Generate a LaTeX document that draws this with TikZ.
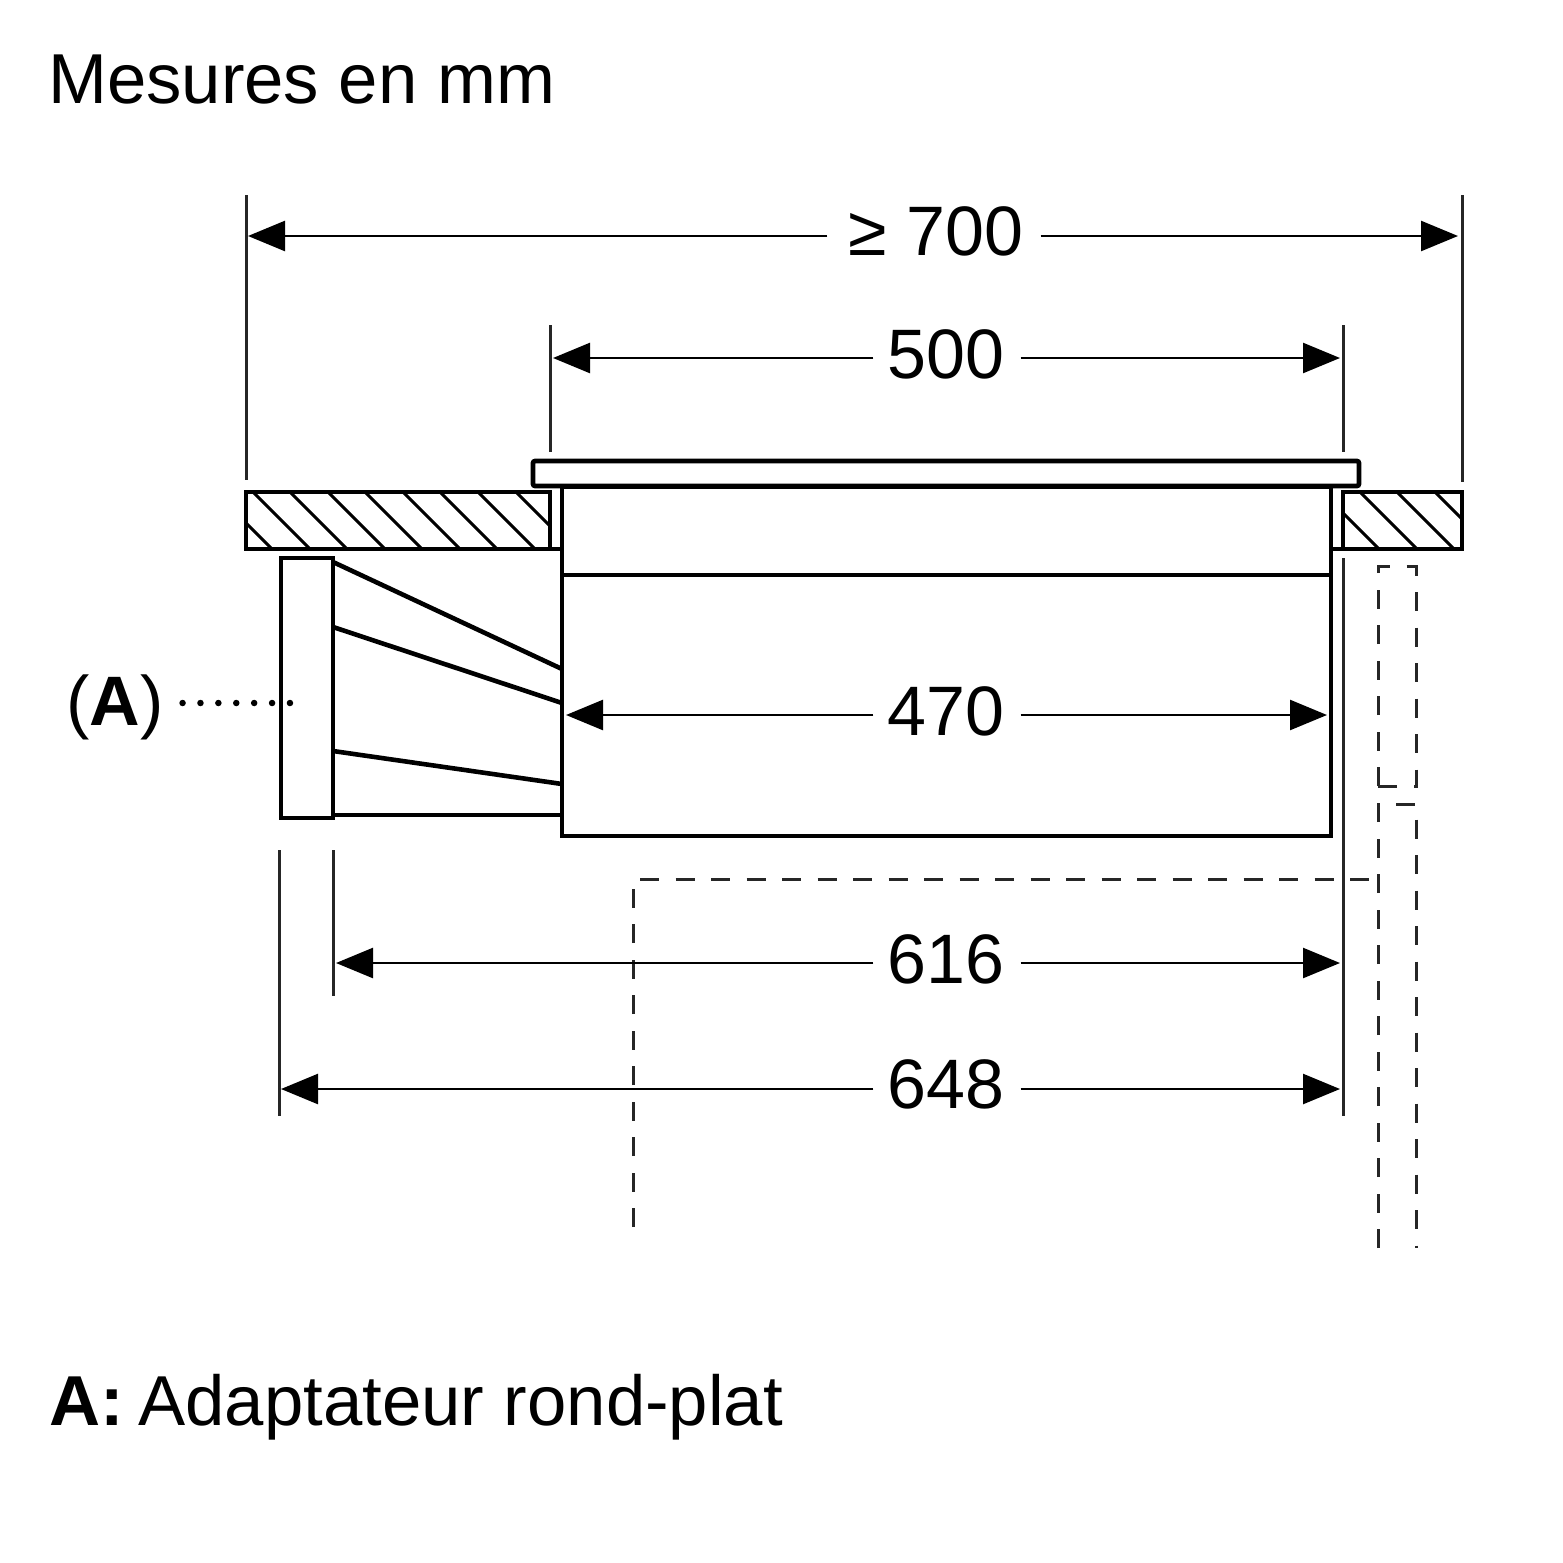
\documentclass[tikz,border=0pt]{standalone}
\usepackage{fontspec}
\setmainfont{Liberation Sans}
\usetikzlibrary{arrows.meta, positioning, calc}
\tikzset{
  big_font/.style = {font=\fontsize{70}{84}\selectfont},
  banner_font/.style = {font=\fontsize{70.7}{84}\selectfont},
  part/.style = {draw, line width=4.6, inner sep=0, outer sep=0, anchor=north west},
  thick_line/.style = {line width=4.6},
  hatch_line/.style = {line width=3},
  thin_line/.style = {line width=3, black!85},
  hidden_line/.style = {line width=3, black!85, dash pattern=on 19 off 16.5},
  dim_line/.style = {line width=2.5, -{Triangle[length=37,width=30]}},
  dim_text/.style = {big_font, inner sep=0, anchor=base},
  banner/.style = {banner_font, inner sep=0, anchor=base west}
}
\begin{document}
\begin{tikzpicture}[x=1pt, y=-1pt]
    \useasboundingbox (0,0) rectangle (1563,1563);

    % Titles
    \node[banner] (title) at (48,103) {Mesures en mm};
    \node[banner] (legend) at (49,1425) {\textbf{A:}\hspace{-5pt} Adaptateur rond-plat};
    \node[dim_text, anchor=base west] (mark_a) at (66,725) {(\textbf{A})};

    % Worktop
    \foreach \x in {215,253,290,328,365,403,440,478,516}{
        \begin{scope}
            \clip (246,492) rectangle (550,549);
            \draw[hatch_line] (\x,492)--(\x+60,552);
        \end{scope}
    }
    \foreach \x in {1322,1360,1397,1435}{
        \begin{scope}
            \clip (1343,492) rectangle (1462,549);
            \draw[hatch_line] (\x,492)--(\x+60,552);
        \end{scope}
    }
    \node[part, minimum width=304, minimum height=57] (wall_l) at (246,492) {};
    \node[part, minimum width=119, minimum height=57] (wall_r) at (1343,492) {};

    % Hob
    \node[part, rounded corners=2, minimum width=826, minimum height=25] (plate) at (533,461) {};
    \node[part, minimum width=769, minimum height=349] (body) at (562,487) {};
    \draw[thick_line] (body.west |- 0,575)--(body.east |- 0,575);
    \draw[thick_line] (wall_l.south east)--(body.west |- wall_l.south);
    \draw[thick_line] (wall_r.south west)--(body.east |- wall_r.south);

    % Adapter
    \node[part, minimum width=52, minimum height=260] (adapter) at (281,558) {};
    \draw[thick_line] (adapter.east |- 0,562)--(body.west |- 0,669);
    \draw[thick_line] (adapter.east |- 0,627)--(body.west |- 0,703);
    \draw[thick_line] (adapter.east |- 0,751)--(body.west |- 0,784);
    \draw[thick_line] (adapter.east |- 0,815)--(body.west |- 0,815);
    \draw[line width=6.5, line cap=round, dash pattern=on 0 off 17.9] ($(mark_a.east |- 0,703)+(19,0)$)--(291,703);

    % Extension lines
    \draw[thin_line] (wall_l.north west |- 0,195)--(wall_l.north west |- 0,480);
    \draw[thin_line] (wall_r.north east |- 0,195)--(wall_r.north east |- 0,482);
    \draw[thin_line] (wall_l.east |- 0,325)--(wall_l.east |- 0,452);
    \draw[thin_line] (wall_r.west |- 0,325)--(wall_r.west |- 0,452);
    \draw[thin_line] (wall_r.west |- 0,558)--(wall_r.west |- 0,1116);
    \draw[thin_line] (279,850)--(279,1116);
    \draw[thin_line] (adapter.east |- 0,850)--(adapter.east |- 0,996);

    % Hidden outlines
    \draw[hidden_line] (633,1227)--(633,879)--(1378,879);
    \draw[hidden_line] (1378,786)--(1378,566)--(1416,566)--(1416,786)--cycle;
    \draw[hidden_line] (1378,1248)--(1378,803);
    \draw[hidden_line] (1396,804)--(1416,804)--(1416,1248);

    % Dimensions
    \node[dim_text] (d_700) at (936,255) {≥ 700};
    \node[dim_text] (d_500) at (946,378) {500};
    \node[dim_text] (d_470) at (946,735) {470};
    \node[dim_text] (d_616) at (946,983) {616};
    \node[dim_text] (d_648) at (946,1108) {648};

    \coordinate (l_700) at (248,236);
    \coordinate (r_700) at (1458,236);
    \coordinate (l_500) at (553,358);
    \coordinate (r_500) at (1340,358);
    \coordinate (l_470) at (566,715);
    \coordinate (r_470) at (1327,715);
    \coordinate (l_616) at (336,963);
    \coordinate (r_616) at (1340,963);
    \coordinate (l_648) at (281,1089);
    \coordinate (r_648) at (1340,1089);

    \draw[dim_line] ($(d_700.west |- l_700)+(-21,0)$)--(l_700);
    \draw[dim_line] ($(d_700.east |- r_700)+(17,0)$)--(r_700);
    \foreach \d in {500,470,616,648}{
        \draw[dim_line] ($(d_\d.west |- l_\d)+(-14,0)$)--(l_\d);
        \draw[dim_line] ($(d_\d.east |- r_\d)+(16,0)$)--(r_\d);
    }
\end{tikzpicture}
\end{document}
